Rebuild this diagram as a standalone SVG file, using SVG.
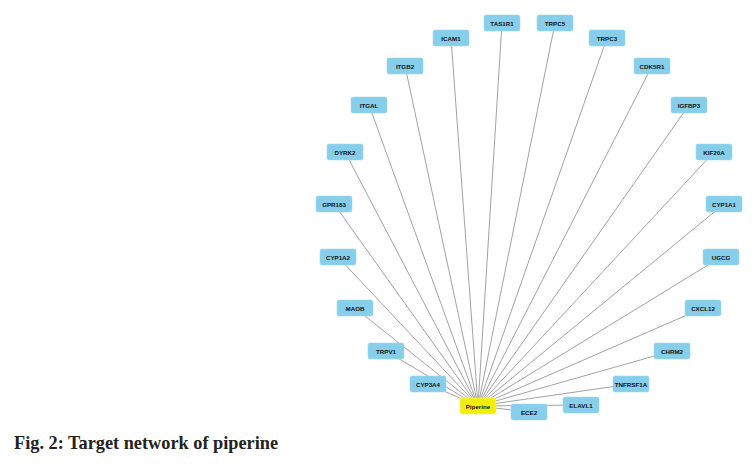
<svg xmlns="http://www.w3.org/2000/svg" width="752" height="464" viewBox="0 0 752 464">
<style>
.n rect{fill:#87CEEB;stroke:#9fd8ef;stroke-width:0.6}
.n text{font-family:"Liberation Sans",Arial,sans-serif;font-size:6.2px;font-weight:bold;fill:#111;text-anchor:middle;dominant-baseline:central}
#n-piperine rect{fill:#F2EE0A;stroke:#f5f27a}
.e line{stroke:#8a8a8a;stroke-width:0.8}
.cap{font-family:"Liberation Serif","Times New Roman",serif;font-weight:bold;font-size:18.3px;fill:#222}
</style>
<rect width="752" height="464" fill="#fff"/>
<g id="edges" class="e">
<line x1="478" y1="406" x2="502" y2="23"/>
<line x1="478" y1="406" x2="555" y2="23"/>
<line x1="478" y1="406" x2="451" y2="38"/>
<line x1="478" y1="406" x2="607" y2="38"/>
<line x1="478" y1="406" x2="405" y2="66"/>
<line x1="478" y1="406" x2="652" y2="66"/>
<line x1="478" y1="406" x2="369" y2="105"/>
<line x1="478" y1="406" x2="689" y2="105"/>
<line x1="478" y1="406" x2="345" y2="152"/>
<line x1="478" y1="406" x2="714" y2="152"/>
<line x1="478" y1="406" x2="334" y2="204"/>
<line x1="478" y1="406" x2="724" y2="204"/>
<line x1="478" y1="406" x2="338" y2="257"/>
<line x1="478" y1="406" x2="721" y2="257"/>
<line x1="478" y1="406" x2="355" y2="308"/>
<line x1="478" y1="406" x2="703" y2="308"/>
<line x1="478" y1="406" x2="386" y2="351"/>
<line x1="478" y1="406" x2="672" y2="351"/>
<line x1="478" y1="406" x2="428" y2="384"/>
<line x1="478" y1="406" x2="631" y2="384"/>
<line x1="478" y1="406" x2="581" y2="405"/>
<line x1="478" y1="406" x2="529" y2="412"/>
</g>
<g id="n-tas1r1" class="n"><rect x="484" y="15" width="36" height="16" rx="2"/><text x="502" y="23">TAS1R1</text></g>
<g id="n-trpc5" class="n"><rect x="537" y="15" width="36" height="16" rx="2"/><text x="555" y="23">TRPC5</text></g>
<g id="n-icam1" class="n"><rect x="433" y="30" width="36" height="16" rx="2"/><text x="451" y="38">ICAM1</text></g>
<g id="n-trpc3" class="n"><rect x="589" y="30" width="36" height="16" rx="2"/><text x="607" y="38">TRPC3</text></g>
<g id="n-itgb2" class="n"><rect x="387" y="58" width="36" height="16" rx="2"/><text x="405" y="66">ITGB2</text></g>
<g id="n-cdk5r1" class="n"><rect x="634" y="58" width="36" height="16" rx="2"/><text x="652" y="66">CDK5R1</text></g>
<g id="n-itgal" class="n"><rect x="351" y="97" width="36" height="16" rx="2"/><text x="369" y="105">ITGAL</text></g>
<g id="n-igfbp3" class="n"><rect x="671" y="97" width="36" height="16" rx="2"/><text x="689" y="105">IGFBP3</text></g>
<g id="n-dyrk2" class="n"><rect x="327" y="144" width="36" height="16" rx="2"/><text x="345" y="152">DYRK2</text></g>
<g id="n-kif20a" class="n"><rect x="696" y="144" width="36" height="16" rx="2"/><text x="714" y="152">KIF20A</text></g>
<g id="n-gpr183" class="n"><rect x="316" y="196" width="36" height="16" rx="2"/><text x="334" y="204">GPR183</text></g>
<g id="n-cyp1a1" class="n"><rect x="706" y="196" width="36" height="16" rx="2"/><text x="724" y="204">CYP1A1</text></g>
<g id="n-cyp1a2" class="n"><rect x="320" y="249" width="36" height="16" rx="2"/><text x="338" y="257">CYP1A2</text></g>
<g id="n-ugcg" class="n"><rect x="703" y="249" width="36" height="16" rx="2"/><text x="721" y="257">UGCG</text></g>
<g id="n-maob" class="n"><rect x="337" y="300" width="36" height="16" rx="2"/><text x="355" y="308">MAOB</text></g>
<g id="n-cxcl12" class="n"><rect x="685" y="300" width="36" height="16" rx="2"/><text x="703" y="308">CXCL12</text></g>
<g id="n-trpv1" class="n"><rect x="368" y="343" width="36" height="16" rx="2"/><text x="386" y="351">TRPV1</text></g>
<g id="n-chrm2" class="n"><rect x="654" y="343" width="36" height="16" rx="2"/><text x="672" y="351">CHRM2</text></g>
<g id="n-cyp3a4" class="n"><rect x="410" y="376" width="36" height="16" rx="2"/><text x="428" y="384">CYP3A4</text></g>
<g id="n-tnfrsf1a" class="n"><rect x="613" y="376" width="36" height="16" rx="2"/><text x="631" y="384">TNFRSF1A</text></g>
<g id="n-elavl1" class="n"><rect x="563" y="397" width="36" height="16" rx="2"/><text x="581" y="405">ELAVL1</text></g>
<g id="n-ece2" class="n"><rect x="511" y="404" width="36" height="16" rx="2"/><text x="529" y="412">ECE2</text></g>
<g id="n-piperine" class="n"><rect x="460" y="398" width="36" height="16" rx="2"/><text x="478" y="406">Piperine</text></g>
<text class="cap" x="14" y="449">Fig. 2: Target network of piperine</text>
</svg>
